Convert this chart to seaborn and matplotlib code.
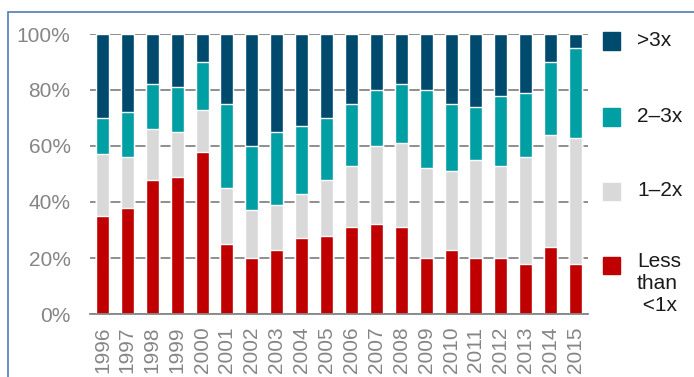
import numpy as np
import pandas as pd
import matplotlib
matplotlib.use("Agg")
import matplotlib.pyplot as plt
from matplotlib.patches import Rectangle
import seaborn as sns

years = [str(y) for y in range(1996, 2016)]
less_than_1x = [35, 38, 48, 49, 58, 25, 20, 23, 27, 28, 31, 32, 31, 20, 23, 20, 20, 18, 24, 18]
one_to_two = [22, 18, 18, 16, 15, 20, 17, 16, 16, 20, 22, 28, 30, 32, 28, 35, 33, 38, 40, 45]
two_to_three = [13, 16, 16, 16, 17, 30, 23, 26, 24, 22, 22, 20, 21, 28, 24, 19, 25, 23, 26, 32]
above_three = [30, 28, 18, 19, 10, 25, 40, 35, 33, 30, 25, 20, 18, 20, 25, 26, 22, 21, 10, 5]

series = ["Less\nthan\n <1x", "1\u20132x", "2\u20133x", ">3x"]
colors = ["#C00000", "#D9D9D9", "#009FA4", "#004A6E"]

sns.set_style("white")
plt.rcParams["font.family"] = ["Liberation Sans", "DejaVu Sans"]

df = pd.DataFrame({"year": years, "s0": less_than_1x, "s1": one_to_two,
                   "s2": two_to_three, "s3": above_three})
stack = df[["s0", "s1", "s2", "s3"]].cumsum(axis=1)

W, H = 694, 377
fig = plt.figure(figsize=(W / 100, H / 100), dpi=100)
ax = fig.add_axes([90 / W, 1 - 314 / H, 498 / W, 280 / H])

# draw tallest stack first so lower segments sit on top
for i in range(3, -1, -1):
    sns.barplot(x=df["year"], y=stack.iloc[:, i], color=colors[i], saturation=1,
                width=0.52, errorbar=None, ax=ax, zorder=2)

grid_c = "#868686"
ax.set_ylim(0, 100)
ax.set_xlim(-0.5, len(years) - 0.5)
ax.set_yticks([0, 20, 40, 60, 80, 100])
ax.set_yticklabels([f"{v}%" for v in [0, 20, 40, 60, 80, 100]])
ax.yaxis.grid(True, color=grid_c, lw=1.3)
ax.set_axisbelow(True)
ax.set_xlabel("")
ax.set_ylabel("")
for s in ["left", "right", "top"]:
    ax.spines[s].set_visible(False)
ax.spines["bottom"].set_color(grid_c)
ax.spines["bottom"].set_linewidth(1.3)
ax.tick_params(axis="y", length=0, pad=14, labelsize=15, labelcolor="#858585")
ax.tick_params(axis="x", which="major", length=0, pad=9, labelsize=15,
               labelcolor="#858585", rotation=90)
ax.set_xticks(np.arange(-0.5, len(years), 1.0), minor=True)
ax.tick_params(axis="x", which="minor", length=4, width=1.3, color=grid_c)

# legend, drawn by hand to match layout
sq = 17
for lab, col, yc in zip(series[::-1], colors[::-1], [41, 117, 191, 265]):
    fig.add_artist(Rectangle((603 / W, 1 - (yc + sq / 2) / H), sq / W, sq / H,
                             transform=fig.transFigure, color=col))
    if "\n" in lab:
        fig.text(637 / W, 1 - 252 / H, lab, fontsize=15, va="top", ha="left",
                 color="#1A1A1A", linespacing=1.2)
    else:
        fig.text(637 / W, 1 - yc / H, lab, fontsize=15, va="center", ha="left",
                 color="#1A1A1A")

# frame line
fig.add_artist(Rectangle((8 / W, -0.1), 1.2, 1 - 12 / H + 0.1, transform=fig.transFigure,
                         fill=False, edgecolor="#4F7DB5", lw=1.2))

fig.savefig("out.png", dpi=100)
